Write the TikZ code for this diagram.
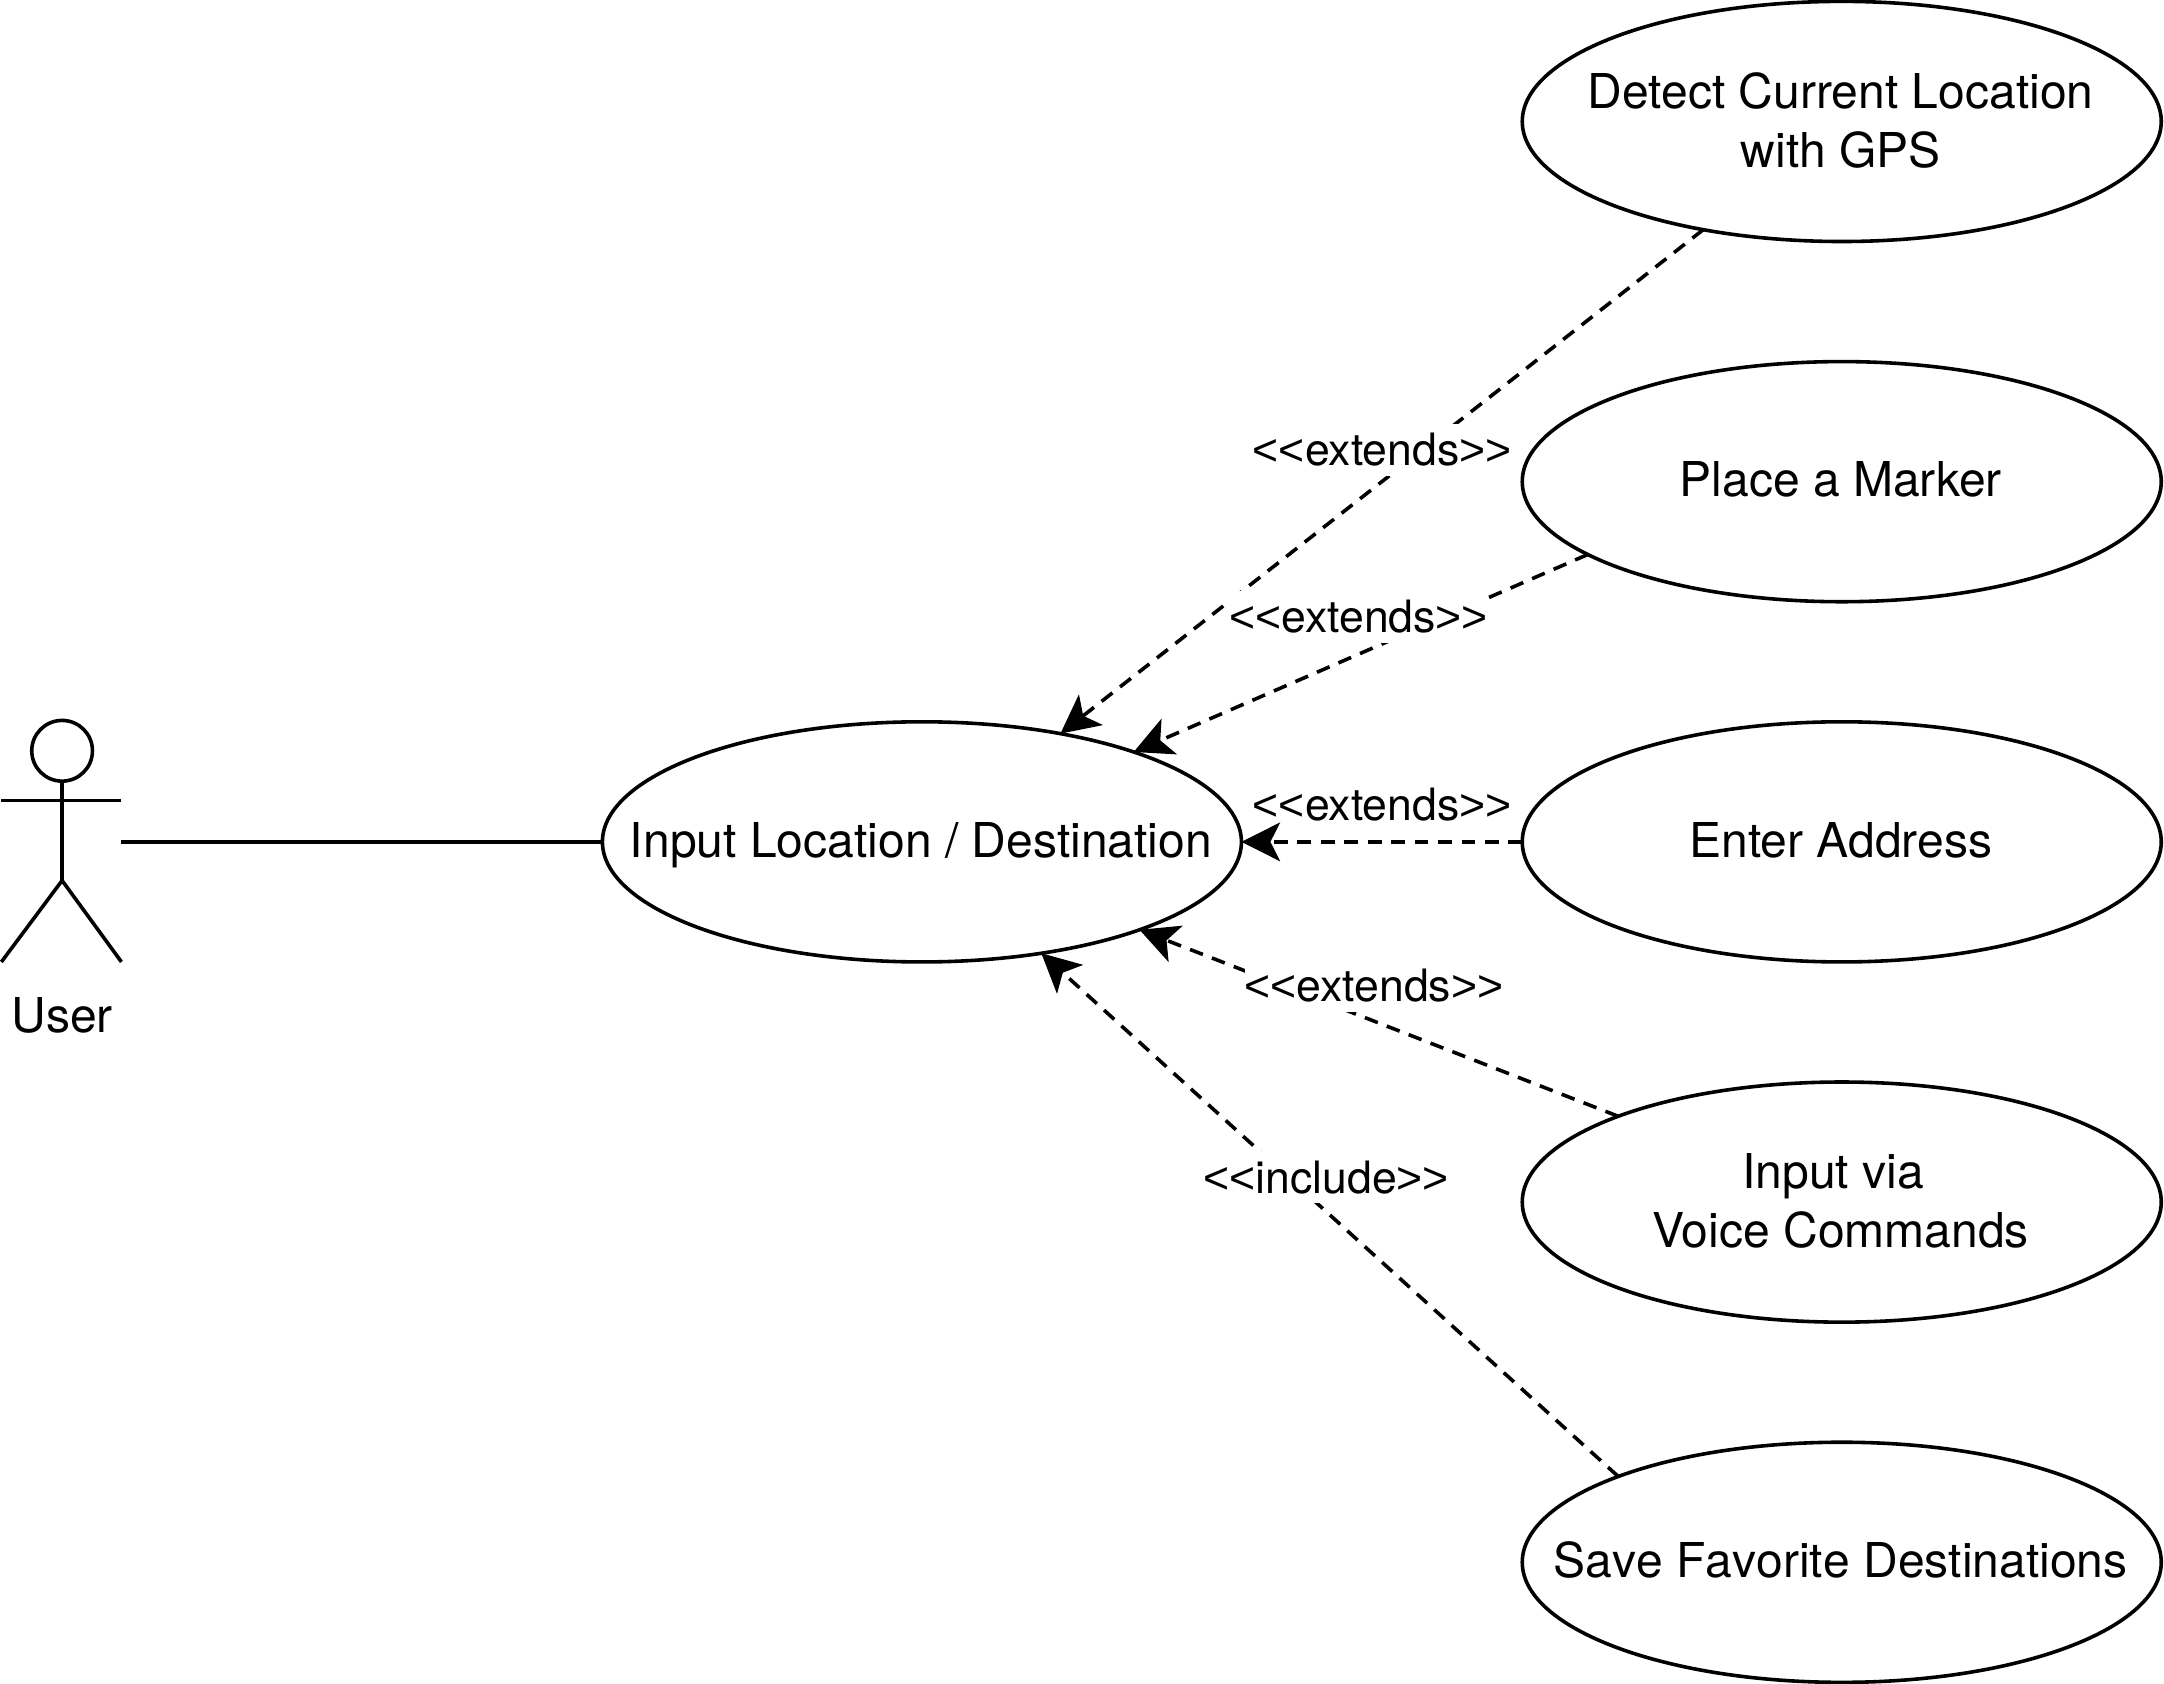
\documentclass[tikz,border=0pt]{standalone}
\usepackage{fontspec}
\setmainfont{TeX Gyre Heros}
\newfontfamily\angfont{Liberation Sans}
\usetikzlibrary{arrows.meta,shapes.geometric}
\newcommand{\ustrut}{\rule[-9pt]{0pt}{40pt}}
\newcommand{\angl}{{\angfont<{}<}}
\newcommand{\angr}{{\angfont>{}>}}
\tikzset{
  x=1pt,y=-1pt,
  ln/.style={line width=2.6pt,black},
  usecase/.style={ellipse,draw,ln,minimum width=463pt,minimum height=174pt,inner xsep=-100pt,inner ysep=0pt,outer sep=0pt,align=center,font=\fontsize{34.8}{43}\selectfont},
  dep/.style={ln,dash pattern=on 10pt off 7pt,-{Stealth[length=28pt,width=28pt,inset=7pt]}},
  lbl/.style={fill=white,inner sep=0pt,minimum height=38pt,font=\fontsize{32.3}{38}\selectfont},
  lblnf/.style={inner sep=0pt,font=\fontsize{32.3}{38}\selectfont},
  actortext/.style={inner sep=0pt,font=\fontsize{34.8}{43}\selectfont},
  head/.style={circle,draw,ln,minimum size=44pt,inner sep=0pt,outer sep=0pt}
}
\begin{document}
\begin{tikzpicture}
\useasboundingbox (0,0) rectangle (1568,1220);
\node[usecase] (main) at (668,610) {\ustrut\kern-1.5pt Input Location / Destination};
\node[usecase] (gps) at (1334.5,88) {\kern-1.5pt Detect Current Location\\\kern-1.5pt with GPS\rule[-2pt]{0pt}{1pt}};
\node[usecase] (marker) at (1334.5,349) {\ustrut\kern-1.5pt Place a Marker};
\node[usecase] (addr) at (1334.5,610) {\ustrut\kern-1.5pt Enter Address};
\node[usecase] (voice) at (1334.5,871) {\mbox{\kern-1.5pt Input via\hspace{11pt}}\\\kern-1.5pt Voice Commands\rule[-2pt]{0pt}{1pt}};
\node[usecase] (fav) at (1334.5,1132) {\addfontfeatures{Kerning=Off}\ustrut\kern-1.5pt Save Favorite Destinations};
% actor
\node[head] (head) at (45,544) {};
\coordinate (hip) at (45,638);
\coordinate (armL) at (1,580);
\coordinate (armR) at (88,580);
\coordinate (footL) at (1,697);
\coordinate (footR) at (88,697);
\coordinate (hand) at (88,610);
\draw[ln] (head.south) -- (hip);
\draw[ln] (armL) -- (armR);
\draw[ln] (footL) -- (hip) -- (footR);
\node[actortext] (user) at (45,736) {User};
\draw[ln] (hand) -- (main.west);
% dependencies
\draw[dep] (gps.218.8) -- (main.38.1);
\draw[dep] (marker.196.6) -- (main.23.1);
\draw[dep] (addr.west) -- (main.east);
\draw[dep] (voice.159) -- (main.-22);
\draw[dep] (fav.159) -- (main.-43);
% labels
\node[lbl] (l1) at (1001.5,326) {\angl extends\angr};
\node[lbl] (l2) at (984.5,447) {\angl extends\angr};
\node[lblnf] (l3) at (1001.5,583) {\angl extends\angr};
\node[lbl] (l4) at (995.5,714) {\angl extends\angr};
\node[lbl] (l5) at (961,853) {\angl include\angr};
\end{tikzpicture}
\end{document}
